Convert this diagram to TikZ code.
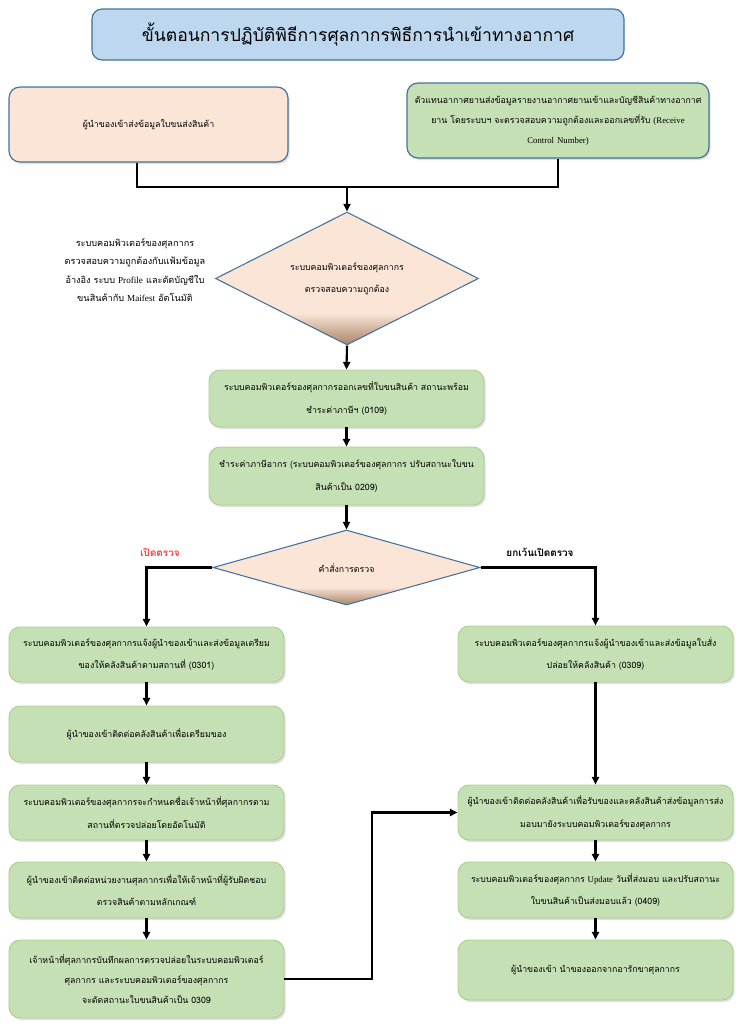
\documentclass[tikz,border=0pt]{standalone}
\usepackage{fontspec}
\newfontfamily\thai[Script=Thai]{Loma}
\newfontfamily\lat{Liberation Serif}
\usetikzlibrary{arrows.meta,shapes.geometric,shadows}
\definecolor{titelblau}{HTML}{BDD7EE}
\definecolor{rahmenblau}{HTML}{41719C}
\definecolor{rosa}{HTML}{FBE5D6}
\definecolor{rosadunkel}{HTML}{A88468}
\definecolor{gruen}{HTML}{C5E0B4}
\definecolor{gruenrand}{HTML}{A9D18E}
\definecolor{rotmarke}{HTML}{FF3B3B}
\pgfdeclareverticalshading{rautenschatten}{100bp}{color(0bp)=(rosadunkel); color(25bp)=(rosadunkel);
  color(37bp)=(rosa); color(100bp)=(rosa)}
\tikzset{
  titel/.style={draw=rahmenblau, fill=titelblau, line width=1pt, rounded corners=3mm,
    minimum width=159.6mm, minimum height=15.3mm, font=\thai\fontsize{15}{18}\selectfont},
  schritt/.style={draw=gruenrand, fill=gruen, line width=0.8pt, rounded corners=3.3mm,
    minimum width=82.5mm, text width=80mm, align=center,
    font=\thai\fontsize{7.5}{19}\selectfont,
    drop shadow={opacity=0.25, shadow xshift=0.5mm, shadow yshift=-0.6mm}},
  quelle/.style={schritt, draw=rahmenblau, line width=1pt},
  raute/.style={diamond, aspect=2, inner sep=0pt, draw=rahmenblau, line width=0.9pt,
    shading=rautenschatten, align=center,
    font=\thai\fontsize{7.5}{19}\selectfont},
  notiz/.style={align=center, font=\thai\fontsize{7.8}{15.5}\selectfont},
  marke/.style={font=\thai\bfseries\fontsize{8.5}{10}\selectfont},
  linie/.style={line width=1.8pt},
  pfeil/.style={line width=1.8pt, -{Triangle[length=6.5pt,width=6pt]}}
}
\begin{document}
\begin{tikzpicture}[x=0.3mm, y=-0.3mm]
  \useasboundingbox (0,0) rectangle (739,1024);
  % Titel
  \node[titel] (titel) at (358,34.5) {ขั้นตอนการปฏิบัติพิธีการศุลกากรพิธีการนำเข้าทางอากาศ};
  % Eingaben
  \node[quelle, fill=rosa, minimum width=83.7mm, minimum height=22.5mm] (nachricht) at (148.5,124.5)
    {ผู้นำของเข้าส่งข้อมูลใบขนส่งสินค้า};
  \node[quelle, minimum width=90.6mm, text width=87mm, minimum height=22.5mm, font=\thai\fontsize{7.5}{17}\selectfont] (agent) at (558,120.5)
    {ตัวแทนอากาศยานส่งข้อมูลรายงานอากาศยานเข้าและบัญชีสินค้าทางอากาศ\\
     ยาน โดยระบบฯ จะตรวจสอบความถูกต้องและออกเลขที่รับ {\lat (Receive}\\
     {\lat Control Number)}};
  \coordinate (jA) at (137,187);
  \coordinate (jM) at (347,187);
  \coordinate (jB) at (558,187);
  % Pruefung
  \node[raute, minimum width=78.9mm, minimum height=39.9mm] (pruefung) at (347,278.5)
    {ระบบคอมพิวเตอร์ของศุลกากร\\ตรวจสอบความถูกต้อง};
  \node[notiz] (hinweis) at (135,270)
    {ระบบคอมพิวเตอร์ของศุลกากร\\ตรวจสอบความถูกต้องกับแฟ้มข้อมูล\\
     อ้างอิง ระบบ {\lat Profile} และตัดบัญชีใบ\\ขนสินค้ากับ {\lat Maifest} อัตโนมัติ};
  % Mittlere Spalte
  \node[schritt, minimum height=17.1mm] (nummer) at (346.5,398.5)
    {ระบบคอมพิวเตอร์ของศุลกากรออกเลขที่ใบขนสินค้า สถานะพร้อม\\ชำระค่าภาษีฯ (0109)};
  \node[schritt, minimum height=17.4mm] (zahlung) at (346.5,476)
    {ชำระค่าภาษีอากร (ระบบคอมพิวเตอร์ของศุลกากร ปรับสถานะใบขน\\สินค้าเป็น 0209)};
  \node[raute, minimum width=80.1mm, minimum height=22.5mm] (befehl) at (346.5,567.5)
    {คำสั่งการตรวจ};
  % Linke Spalte
  \node[schritt, minimum height=16.5mm] (l1) at (146.5,654.5)
    {ระบบคอมพิวเตอร์ของศุลกากรแจ้งผู้นำของเข้าและส่งข้อมูลเตรียม\\ของให้คลังสินค้าตามสถานที่ (0301)};
  \node[schritt, minimum height=16.8mm] (l2) at (146.5,734)
    {ผู้นำของเข้าติดต่อคลังสินค้าเพื่อเตรียมของ};
  \node[schritt, minimum height=16.5mm] (l3) at (146.5,812.5)
    {ระบบคอมพิวเตอร์ของศุลกากรจะกำหนดชื่อเจ้าหน้าที่ศุลกากรตาม\\สถานที่ตรวจปล่อยโดยอัตโนมัติ};
  \node[schritt, minimum height=16.8mm] (l4) at (146.5,890)
    {ผู้นำของเข้าติดต่อหน่วยงานศุลกากรเพื่อให้เจ้าหน้าที่ผู้รับผิดชอบ\\ตรวจสินค้าตามหลักเกณฑ์};
  \node[schritt, minimum height=23.4mm, font=\thai\fontsize{7.5}{17}\selectfont] (l5) at (146.5,979)
    {เจ้าหน้าที่ศุลกากรบันทึกผลการตรวจปล่อยในระบบคอมพิวเตอร์\\ศุลกากร และระบบคอมพิวเตอร์ของศุลกากร\\จะตัดสถานะใบขนสินค้าเป็น 0309};
  % Rechte Spalte
  \node[schritt, minimum height=16.8mm] (r1) at (595.5,654)
    {ระบบคอมพิวเตอร์ของศุลกากรแจ้งผู้นำของเข้าและส่งข้อมูลใบสั่ง\\ปล่อยให้คลังสินค้า (0309)};
  \node[schritt, minimum height=16.5mm] (r2) at (595.5,812.5)
    {ผู้นำของเข้าติดต่อคลังสินค้าเพื่อรับของและคลังสินค้าส่งข้อมูลการส่ง\\มอบมายังระบบคอมพิวเตอร์ของศุลกากร};
  \node[schritt, minimum height=16.8mm] (r3) at (595.5,890)
    {ระบบคอมพิวเตอร์ของศุลกากร {\lat Update} วันที่ส่งมอบ และปรับสถานะ\\ใบขนสินค้าเป็นส่งมอบแล้ว (0409)};
  \node[schritt, minimum height=18mm] (r4) at (595.5,970)
    {ผู้นำของเข้า นำของออกจากอารักขาศุลกากร};
  % Verbindungen
  \draw[linie] (nachricht.south -| jA) -- (jA) -- (jB) -- (agent.south);
  \draw[pfeil] (jM) -- (pruefung.north);
  \draw[pfeil] (pruefung.south) -- (nummer.north);
  \draw[pfeil] (nummer) -- (zahlung);
  \draw[pfeil] (zahlung) -- (befehl.north);
  \draw[pfeil] (befehl.west) -| (l1.north);
  \draw[pfeil] (befehl.east) -| (r1.north);
  \node[marke, text=rotmarke] (offen) at (160,552) {เปิดตรวจ};
  \node[marke] (frei) at (540,552) {ยกเว้นเปิดตรวจ};
  \foreach \a/\b in {l1/l2, l2/l3, l3/l4, l4/l5, r1/r2, r2/r3, r3/r4}
    \draw[pfeil] (\a) -- (\b);
  \coordinate (knick) at (372,979);
  \draw[pfeil] (l5.east) -- (knick) |- (r2.west);
\end{tikzpicture}
\end{document}
